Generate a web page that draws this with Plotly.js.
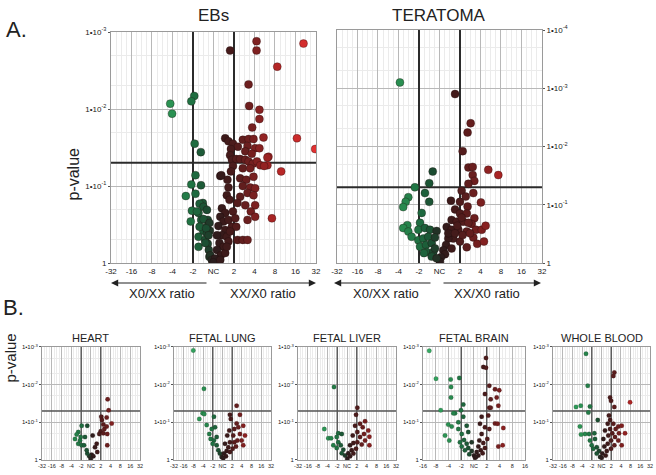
<!DOCTYPE html>
<html>
<head>
<meta charset="utf-8">
<script src="https://cdn.plot.ly/plotly-3.0.1.min.js"></script>
<style>body{margin:0;background:#fff}</style>
</head>
<body>
<div id="chart" style="width:656px;height:475px"></div>
<script>
// x = signed log2 ratio (NC = 0, -2 -> -1, 2 -> 1 ...), y = -log10(p-value)
var ebX = [2.10,2.10,0.81,4.39,3.11,1.71,1.74,2.24,2.24,1.89,2.44,4.07,4.96,2.68,2.63,3.30,2.85,
  -2.11,-2.02,-0.94,-1.08,-0.92,-0.62,-0.88,-1.08,-0.88,-1.35,-0.61,-0.52,-1.05,-0.73,-1.11,-0.60,-0.28,-0.73,-0.73,-0.50,-0.32,-0.28,-0.23,-0.20,-0.04,-0.41,-0.18,-0.33,
  -0.68,-0.49,-0.81,-0.32,-0.49,-0.20,-0.68,-0.36,-0.24,-0.40,-0.16,-0.08,
  0.57,0.73,0.95,1.19,0.85,0.81,0.90,1.11,0.95,0.85,0.68,0.33,0.73,0.65,0.78,0.41,0.57,0.33,0.49,0.73,0.24,0.57,0.41,0.17,0.65,0.29,0.49,0.17,0.36,0.08,0.00,
  1.17,1.43,1.66,1.43,1.71,1.95,1.66,2.03,2.24,1.55,1.87,1.30,1.55,1.71,1.92,2.12,2.28,2.47,2.63,1.43,1.79,1.30,1.60,1.95,1.43,1.79,2.03,1.66,1.95,1.30,1.17,1.55,2.03,1.82,2.03,1.66,
  0.95,1.06,0.90,1.11,0.81,0.73,0.57,0.33,0.65,0.38];
var ebY = [2.88,2.76,2.76,2.85,2.55,2.32,2.04,1.99,1.87,1.76,1.63,1.62,1.48,1.38,1.27,1.19,0.58,
  2.07,1.94,2.17,2.10,1.55,1.44,1.14,1.02,0.90,0.87,1.01,0.78,0.68,0.65,0.54,0.56,0.56,0.34,0.21,0.42,0.38,0.25,0.17,0.08,0.02,0.30,0.42,0.47,
  0.77,0.73,0.67,0.69,0.57,0.52,0.47,0.45,0.36,0.26,0.10,0.04,
  1.62,1.58,1.55,1.51,1.48,1.40,1.34,1.35,1.26,1.19,1.08,1.13,0.98,0.88,0.82,0.71,0.65,0.60,0.54,0.56,0.48,0.43,0.36,0.36,0.34,0.26,0.21,0.17,0.10,0.06,0.01,
  0.30,0.30,0.30,1.60,1.61,1.61,1.52,1.49,1.49,1.45,1.42,1.35,1.34,1.32,1.29,1.32,1.27,1.26,1.37,1.23,1.23,1.10,1.08,1.12,1.00,0.98,0.97,0.91,0.88,0.86,0.78,0.75,0.75,0.67,0.60,0.56,
  0.67,0.58,0.47,0.47,0.41,0.28,0.13,0.04,0.21,1.14];

var teraX = [-1.93,0.76,1.52,1.37,1.13,1.41,1.62,2.38,2.87,1.62,1.70,1.41,1.08,1.65,1.28,0.56,1.00,2.02,1.37,0.76,1.00,1.33,1.70,0.59,0.84,1.16,1.57,1.78,2.06,2.25,0.35,0.59,0.92,1.33,1.65,1.84,2.17,1.33,1.00,0.67,0.43,0.32,0.59,0.19,0.27,0.07,0.02,0.43,0.76,1.13,1.49,0.87,1.08,1.41,
  -0.33,-0.50,-1.20,-0.71,-1.52,-1.65,-0.50,-1.77,-0.87,-0.95,-1.57,-1.77,-1.52,-1.36,-1.03,-0.71,-0.46,-0.14,-1.03,-0.79,-0.55,-0.95,-0.66,-0.38,-0.22,-0.63,-0.30,-0.38,-0.14,-0.76,-0.22];
var teraY = [3.10,2.90,2.40,2.24,1.92,1.64,1.65,1.60,1.51,1.51,1.41,1.36,1.24,1.20,1.14,1.07,1.05,1.04,0.97,0.92,0.85,0.85,0.77,0.74,0.71,0.71,0.67,0.57,0.57,0.64,0.62,0.57,0.57,0.54,0.44,0.33,0.37,0.27,0.37,0.42,0.42,0.31,0.25,0.22,0.15,0.10,0.02,0.51,0.51,0.48,0.51,0.64,0.78,0.69,
  1.57,1.37,1.30,1.20,1.13,1.05,1.05,0.96,0.86,0.69,0.65,0.60,0.54,0.45,0.57,0.60,0.57,0.55,0.39,0.42,0.45,0.28,0.31,0.34,0.44,0.19,0.19,0.11,0.08,0.17,0.25];

var heartX = [1.70,1.80,1.05,1.12,1.60,2.11,1.26,1.60,1.36,0.99,0.85,1.66,1.26,1.66,0.17,0.58,0.41,0.64,0.07,-0.17,-0.38,0.24,-0.03,
  -0.95,-0.38,-1.30,-1.05,-1.63,-1.30,-0.95,-1.12,-0.61,-1.46,-0.71,-0.44];
var heartY = [1.61,1.32,1.15,1.06,1.13,0.97,0.94,0.89,0.82,0.76,0.69,0.69,0.71,0.39,0.65,0.43,0.34,0.21,0.14,0.10,0.17,0.10,0.03,
  0.91,0.91,0.74,0.61,0.56,0.43,0.39,0.52,0.61,0.68,0.39,0.26];

var lungX = [-3.01,-1.91,-2.04,-1.88,-2.39,-0.88,-1.63,-1.11,-0.77,-1.36,-1.22,-0.88,-0.60,-1.01,-0.60,-0.43,-0.26,-0.09,
  1.46,0.77,0.85,1.80,1.46,2.14,1.63,1.22,0.70,1.80,2.32,1.11,0.49,1.53,1.98,0.77,0.26,2.14,1.39,0.60,1.05,0.43,0.77,0.15,0.36,0.08,1.22];
var lungY = [2.91,1.89,1.24,1.22,1.09,1.15,0.93,0.82,0.87,0.69,0.56,0.52,0.61,0.43,0.39,0.26,0.17,0.08,
  1.44,1.20,1.09,1.20,0.97,0.91,0.87,0.82,0.78,0.69,0.65,0.65,0.65,0.52,0.52,0.47,0.43,0.39,0.36,0.34,0.30,0.24,0.21,0.17,0.10,0.05,0.47];

var liverX = [-1.33,-2.32,-1.91,-1.63,-0.89,-0.54,-1.05,-1.40,-0.89,-0.64,-1.05,-0.38,-0.54,-0.20,0.03,
  1.05,0.92,1.33,1.84,0.82,1.60,2.17,1.05,1.73,2.28,0.58,1.33,1.84,1.05,0.65,2.28,1.50,0.31,0.92,0.48,0.13,0.65,0.31];
var liverY = [1.94,0.82,0.58,0.58,0.71,0.69,0.61,0.39,0.47,0.39,0.32,0.27,0.18,0.12,0.03,
  1.39,1.20,0.96,1.03,0.91,0.87,0.78,0.74,0.69,0.62,0.65,0.61,0.52,0.47,0.45,0.39,0.41,0.39,0.30,0.26,0.18,0.17,0.10];

var brainX = [-3.51,-2.98,-1.83,-1.15,-1.80,-1.80,-2.61,-0.84,-1.49,-1.62,-1.02,-0.84,-2.02,-1.75,-1.23,-0.57,-1.23,-2.27,-1.94,-0.96,-0.45,-0.78,-1.10,-0.57,-0.18,-0.96,-0.45,-0.71,-0.18,-0.37,0.00,0.08,
  0.94,0.73,0.94,1.20,1.65,1.98,0.86,1.78,1.31,1.20,1.31,1.91,0.60,1.12,1.65,1.86,2.30,0.47,0.86,1.20,0.60,1.04,0.42,0.73,0.34,0.86,0.53,0.21,0.68,0.34,0.16,1.91,2.25];
var brainY = [2.90,2.16,2.14,2.18,1.94,1.66,1.32,1.47,1.24,1.24,1.32,1.15,0.94,0.89,1.00,0.91,0.82,0.65,0.52,0.69,0.74,0.53,0.47,0.43,0.47,0.36,0.32,0.26,0.24,0.15,0.12,0.06,
  2.71,2.47,2.45,1.97,1.88,1.85,1.75,1.66,1.61,1.39,1.39,1.44,1.15,1.18,0.97,0.96,0.85,0.96,0.87,0.82,0.69,0.56,0.52,0.45,0.36,0.32,0.26,0.21,0.18,0.12,0.08,0.36,0.39];

var bloodX = [-1.60,-1.42,-2.63,-2.14,-1.19,-1.36,-2.22,-1.70,-1.29,-0.74,-2.11,-1.19,-0.67,-1.01,-0.49,-0.85,-0.26,-0.49,-0.15,
  1.32,1.22,0.88,0.98,1.32,2.94,-0.39,0.77,0.88,0.64,1.22,1.73,2.08,1.46,0.88,0.36,1.11,1.80,2.42,0.70,1.39,0.19,0.98,1.73,0.64,1.32,2.08,0.29,0.98,0.54,0.08,0.43,0.02];
var bloodY = [2.82,1.97,1.41,1.44,1.42,1.26,0.89,0.69,0.69,0.71,0.68,0.52,0.56,0.39,0.34,0.30,0.24,0.17,0.08,
  2.32,2.23,1.66,1.57,1.41,1.53,1.06,1.18,1.06,0.96,0.96,0.89,0.91,0.82,0.82,0.78,0.71,0.71,0.71,0.65,0.61,0.56,0.52,0.52,0.43,0.39,0.39,0.36,0.30,0.24,0.17,0.12,0.06];

var ratioVals = [-5,-4,-3,-2,-1,0,1,2,3,4,5];
var ratioLabels = ["-32","-16","-8","-4","-2","NC","2","4","8","16","32"];
var pVals = [1, 0.1, 0.01, 0.001, 0.0001];
var pLabels = ["1", "1•10<sup>-1</sup>", "1•10<sup>-2</sup>", "1•10<sup>-3</sup>", "1•10<sup>-4</sup>"];
var ratioCut = 1;      // ratio 2
var pCut = 0.05;

var FONT = "Liberation Sans, Arial, sans-serif";
var colors = [[0,"#3fc274"],[0.3,"#2a9152"],[0.4,"#1f7042"],[0.47,"#1b4a30"],[0.5,"#2a1d1d"],
  [0.55,"#3a1a1a"],[0.6,"#4e1c1c"],[0.7,"#7a2020"],[0.8,"#b02525"],[1,"#e23030"]];

// panel layout: [title, x, y, xdomain, ydomain, ratio limit, decades, y side, big]
var bottomY = [0.0316, 0.2695];
var panels = [
  ["EBs", ebX, ebY, [0.1692,0.4817], [0.4463,0.9326], 5, 3, "left", true],
  ["TERATOMA", teraX, teraY, [0.5137,0.8262], [0.4463,0.9368], 5, 4, "right", true],
  ["HEART", heartX, heartY, [0.0640,0.2134], bottomY, 5, 3, "left", false],
  ["FETAL LUNG", lungX, lungY, [0.2652,0.4131], bottomY, 5, 3, "left", false],
  ["FETAL LIVER", liverX, liverY, [0.4543,0.6037], bottomY, 5, 3, "left", false],
  ["FETAL BRAIN", brainX, brainY, [0.6448,0.8003], bottomY, 4, 3, "left", false],
  ["WHOLE BLOOD", bloodX, bloodY, [0.8430,0.9909], bottomY, 5, 3, "left", false]
];

var data = [];
var layout = {
  width: 656, height: 475,
  margin: {l: 0, r: 0, t: 0, b: 0},
  paper_bgcolor: "#fff", plot_bgcolor: "#fff",
  showlegend: false,
  font: {family: FONT, color: "#222"},
  annotations: []
};

panels.forEach(function(p, i) {
  var n = i === 0 ? "" : String(i + 1);
  var big = p[8];
  var lim = p[5];
  var pTop = Math.pow(10, -p[6]);
  var cutLine = {color: big ? "#2b2b2b" : "#555", width: big ? 2 : 1.4};

  // cut-off lines first so the points sit on top of them
  [-ratioCut, ratioCut].forEach(function(v) {
    data.push({type: "scatter", mode: "lines", x: [v, v], y: [1, pTop],
      xaxis: "x" + n, yaxis: "y" + n, line: cutLine, hoverinfo: "skip", cliponaxis: false});
  });
  data.push({type: "scatter", mode: "lines", x: [-lim, lim], y: [pCut, pCut],
    xaxis: "x" + n, yaxis: "y" + n, line: cutLine, hoverinfo: "skip", cliponaxis: false});

  data.push({
    type: "scatter", mode: "markers",
    x: p[1],
    y: p[2].map(function(v) { return Math.pow(10, -v); }),
    xaxis: "x" + n, yaxis: "y" + n,
    marker: {
      size: big ? 8 : 4.5,
      color: p[1], cmin: -5, cmax: 5, colorscale: colors,
      line: {color: "rgba(30,12,12,0.55)", width: big ? 0.6 : 0.3}
    },
    hoverinfo: "skip"
  });

  var tv = ratioVals.filter(function(v) { return Math.abs(v) <= lim; });
  var tt = tv.map(function(v) { return ratioLabels[v + 5]; });
  layout["xaxis" + n] = {
    domain: p[3], anchor: "y" + n, range: [-lim, lim],
    tickmode: "array", tickvals: tv, ticktext: tt, tickangle: 0,
    showgrid: true, gridcolor: "#b8b8b8", gridwidth: 1,
    minor: {dtick: 0.25, showgrid: true, gridcolor: "#ebebeb"},
    zeroline: false, showline: true, linecolor: "#9a9a9a", mirror: true,
    ticks: "",
    tickfont: {size: big ? 8 : 5.5, family: FONT, color: "#222"},
    fixedrange: true
  };
  var yv = pVals.slice(0, p[6] + 1);
  layout["yaxis" + n] = {
    domain: p[4], anchor: "x" + n, type: "log", range: [0, -p[6]], side: p[7],
    tickmode: "array", tickvals: yv, ticktext: pLabels.slice(0, p[6] + 1),
    showgrid: true, gridcolor: "#b8b8b8", gridwidth: 1,
    minor: {dtick: "D2", showgrid: true, gridcolor: "#ebebeb"},
    zeroline: false, showline: true, linecolor: "#9a9a9a", mirror: true,
    ticks: "outside", ticklen: 2, tickcolor: "#555",
    tickfont: {size: big ? 8 : 6, family: FONT, color: "#222"},
    fixedrange: true
  };

  layout.annotations.push({
    text: p[0], xref: "paper", yref: "paper", showarrow: false,
    x: (p[3][0] + p[3][1]) / 2, y: big ? 0.968 : 0.288, xanchor: "center", yanchor: "middle",
    font: {size: big ? 17 : 11, family: FONT, color: "#222"}
  });
});

// ratio arrows under the two top panels
function arrowPair(x0, xm, x1, tl, tr) {
  var ya = 1 - 283 / 475;
  layout.annotations.push(
    {x: x0 / 656, y: ya, xref: "paper", yref: "paper", ax: (xm - 5) - x0, ay: 0, text: "",
     showarrow: true, arrowhead: 2, arrowsize: 1.2, arrowwidth: 1.2, arrowcolor: "#222"},
    {x: x1 / 656, y: ya, xref: "paper", yref: "paper", ax: (xm + 5) - x1, ay: 0, text: "",
     showarrow: true, arrowhead: 2, arrowsize: 1.2, arrowwidth: 1.2, arrowcolor: "#222"},
    {x: tl / 656, y: 1 - 293 / 475, xref: "paper", yref: "paper", xanchor: "center", showarrow: false,
     text: "X0/XX ratio", font: {size: 13, family: FONT, color: "#222"}},
    {x: tr / 656, y: 1 - 293 / 475, xref: "paper", yref: "paper", xanchor: "center", showarrow: false,
     text: "XX/X0 ratio", font: {size: 13, family: FONT, color: "#222"}}
  );
}
arrowPair(111, 213, 316, 162, 263);
arrowPair(334, 437, 541, 386, 487);

layout.annotations.push(
  {text: "A.", x: 4 / 656, y: 1 - 15 / 475, xref: "paper", yref: "paper", xanchor: "left", showarrow: false,
   font: {size: 22, family: FONT, color: "#222"}},
  {text: "B.", x: 1 / 656, y: 1 - 322 / 475, xref: "paper", yref: "paper", xanchor: "left", showarrow: false,
   font: {size: 22, family: FONT, color: "#222"}},
  {text: "p-value", x: 73 / 656, y: 1 - 146 / 475, xref: "paper", yref: "paper", xanchor: "center",
   textangle: -90, showarrow: false, font: {size: 16, family: FONT, color: "#222"}},
  {text: "p-value", x: 10 / 656, y: 1 - 385 / 475, xref: "paper", yref: "paper", xanchor: "center",
   textangle: -90, showarrow: false, font: {size: 15, family: FONT, color: "#222"}}
);

Plotly.newPlot("chart", data, layout, {displayModeBar: false, staticPlot: true});
</script>
</body>
</html>
